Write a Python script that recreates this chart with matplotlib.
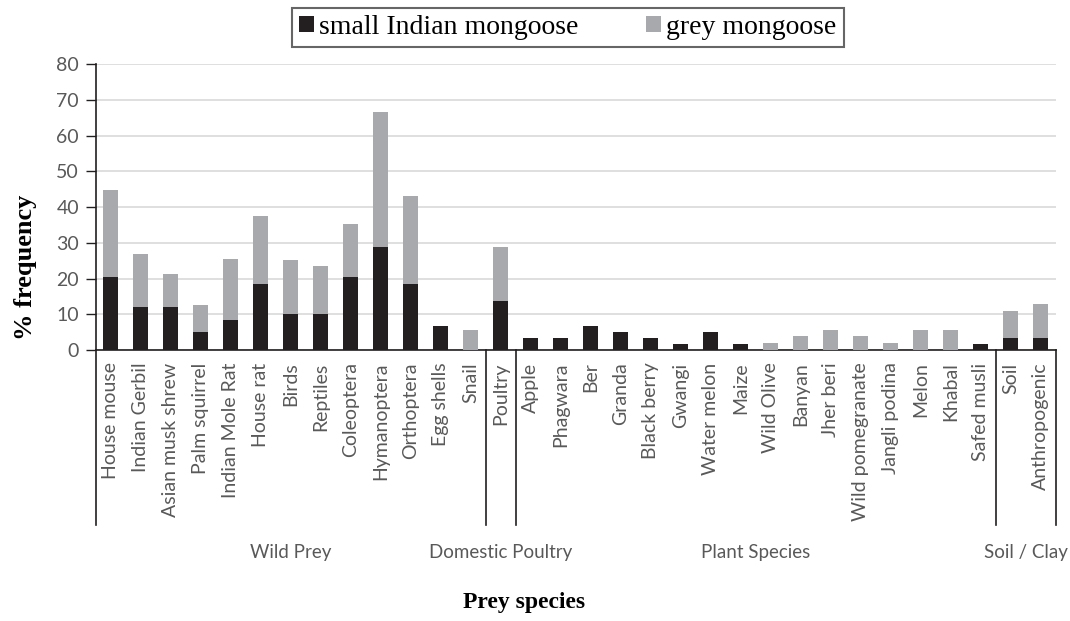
import matplotlib
matplotlib.use("Agg")
import matplotlib.pyplot as plt
import matplotlib.transforms as mtransforms
from matplotlib.patches import Patch

categories = [
    "House mouse", "Indian Gerbil", "Asian musk shrew", "Palm squirrel",
    "Indian Mole Rat", "House rat", "Birds", "Reptiles", "Coleoptera",
    "Hymanoptera", "Orthoptera", "Egg shells", "Snail",
    "Poultry",
    "Apple", "Phagwara", "Ber", "Granda", "Black berry", "Gwangi",
    "Water melon", "Maize", "Wild Olive", "Banyan", "Jher beri",
    "Wild pomegranate", "Jangli podina", "Melon", "Khabal", "Safed musli",
    "Soil", "Anthropogenic",
]

small_indian = [
    20.3, 11.9, 11.9, 5.1, 8.5, 18.6, 10.2, 10.2, 20.3, 28.8, 18.6, 6.8, 0.0,
    13.6,
    3.4, 3.4, 6.8, 5.1, 3.4, 1.7, 5.1, 1.7, 0.0, 0.0, 0.0, 0.0, 0.0, 0.0, 0.0, 1.7,
    3.4, 3.4,
]

grey = [
    24.5, 15.1, 9.4, 7.5, 17.0, 18.9, 15.1, 13.2, 15.1, 37.7, 24.5, 0.0, 5.7,
    15.1,
    0.0, 0.0, 0.0, 0.0, 0.0, 0.0, 0.0, 0.0, 1.9, 3.8, 5.7, 3.8, 1.9, 5.7, 5.7, 0.0,
    7.5, 9.4,
]

groups = ["Wild Prey", "Domestic Poultry", "Plant Species", "Soil / Clay"]
group_sizes = [13, 1, 16, 2]

BLACK = "#231f20"
GREY = "#a7a9ac"
TEXT = "#595959"
SANS = ["Lato", "DejaVu Sans"]
SERIF = ["Liberation Serif", "DejaVu Serif"]

fig = plt.figure(figsize=(10.7, 6.21), dpi=100)
ax = fig.add_axes([0.0894, 0.4364, 0.8972, 0.4601])

x = list(range(len(categories)))
ax.bar(x, small_indian, 0.5, color=BLACK, zorder=3)
ax.bar(x, grey, 0.5, bottom=small_indian, color=GREY, zorder=3)

ax.set_xlim(-0.5, len(categories) - 0.5)
ax.set_ylim(0, 80)
ax.set_yticks(range(0, 81, 10))
ax.yaxis.grid(True, color="#d9d9d9", linewidth=1.2, zorder=0)
ax.tick_params(axis="y", length=7, width=1, color=BLACK, pad=5,
               labelsize=14, labelcolor=TEXT)
for lab in ax.get_yticklabels():
    lab.set_family(SANS)

ax.set_xticks(x)
ax.set_xticklabels(categories, rotation=90, fontsize=14, color=TEXT,
                   family=SANS, va="top")
ax.tick_params(axis="x", length=0, pad=9)

for side in ("top", "right"):
    ax.spines[side].set_visible(False)
ax.spines["left"].set_color(BLACK)
ax.spines["bottom"].set_color(BLACK)
ax.spines["left"].set_linewidth(1.2)
ax.spines["bottom"].set_linewidth(1.2)

# group separators and group labels below the axis
trans = mtransforms.blended_transform_factory(ax.transData, ax.transAxes)
bounds = [-0.5]
for n in group_sizes:
    bounds.append(bounds[-1] + n)
for b in bounds:
    ax.plot([b, b], [0, -0.6125], transform=trans, color=BLACK,
            linewidth=1.2, clip_on=False)
for name, a, b in zip(groups, bounds[:-1], bounds[1:]):
    ax.text((a + b) / 2, -0.71, name, transform=trans, ha="center",
            va="center", fontsize=13.5, color=TEXT, family=SANS)

fig.text(0.024, 0.57, "% frequency", rotation=90, ha="center", va="center",
         fontsize=19, fontweight="bold", family=SERIF)
fig.text(0.49, 0.029, "Prey species", ha="center", va="center",
         fontsize=17, fontweight="bold", family=SERIF)

handles = [Patch(facecolor=BLACK, edgecolor="none"),
           Patch(facecolor=GREY, edgecolor="none")]
leg = fig.legend(handles, ["small Indian mongoose", "grey mongoose"],
                 loc="center", bbox_to_anchor=(0.5305, 0.956), ncol=2,
                 frameon=True, fancybox=False, edgecolor="#404040",
                 prop={"family": SERIF, "size": 20},
                 handlelength=0.55, handleheight=0.55, handletextpad=0.2,
                 columnspacing=2.4, borderpad=0.25, borderaxespad=0)
leg.get_frame().set_linewidth(1.5)

fig.savefig("out.png", dpi=100)
